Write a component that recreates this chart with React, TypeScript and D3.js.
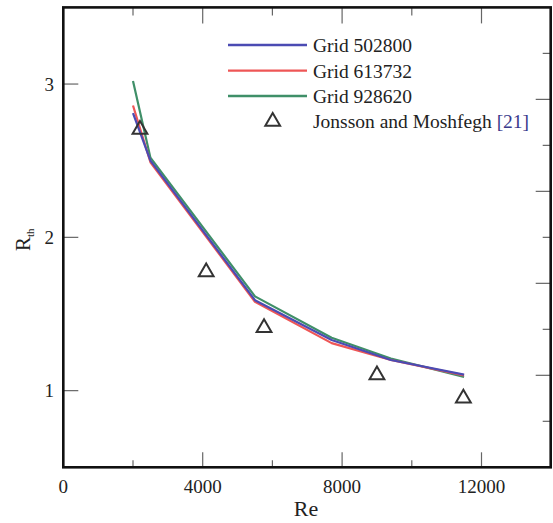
import React from "react";
import * as d3 from "d3";

const reValues = [2000, 2500, 5500, 7700, 9400, 11500];
const grid502800 = [2.81, 2.5, 1.59, 1.33, 1.2, 1.105];
const grid613732 = [2.86, 2.49, 1.58, 1.31, 1.2, 1.1];
const grid928620 = [3.02, 2.52, 1.615, 1.345, 1.21, 1.09];
const expRe = [2200, 4100, 5760, 9000, 11480];
const expRth = [2.71, 1.78, 1.417, 1.109, 0.957];
const xTicks = [0, 4000, 8000, 12000];
const xMinor = [2000, 6000, 10000];
const yTicks = [1, 2, 3];
const rightTicks = [0.8, 1.1, 1.4, 1.7, 2.0, 2.3, 2.6, 2.9, 3.2];
const rightLong = [1.1, 1.7, 2.3, 2.9];

const seriesNames = ["Grid 502800", "Grid 613732", "Grid 928620"];
const seriesColors = ["#4b4bb3", "#ee5656", "#3f8f68"];
const seriesValues = [grid502800, grid613732, grid928620];

const FONT = "Liberation Serif, Times New Roman, Times, serif";
const fs = (size: number) => ({ fontFamily: FONT, fontSize: size + "px" });

export default function App() {
  const W = 553, H = 523;
  const L = 63.3, R = 550.7, T = 7.4, B = 467.3;
  const x = d3.scaleLinear().domain([0, 14000]).range([L, 551.2]);
  const y = d3.scaleLinear().domain([0.5, 3.5]).range([B, T]);
  const line = d3.line<[number, number]>().x(d => x(d[0])).y(d => y(d[1]));
  const tri = d3.symbol().type(d3.symbolTriangle).size(95)();
  const drawOrder = [2, 1, 0];
  const legendY = [45, 70.7, 96];

  return (
    <svg width={W} height={H} style={{ position: "absolute", left: 0, top: 0, background: "#fff" }}>
      <rect x={0} y={0} width={W} height={H} fill="#fff" />
      <g stroke="#666" strokeWidth={1.2}>
        {xTicks.filter(v => v > 0).map(v => (
          <g key={"xt" + v}>
            <line x1={x(v)} x2={x(v)} y1={B} y2={B - 15} />
            <line x1={x(v)} x2={x(v)} y1={T} y2={T + 16} />
          </g>
        ))}
        {xMinor.map(v => (
          <g key={"xm" + v}>
            <line x1={x(v)} x2={x(v)} y1={B} y2={B - 7} />
            <line x1={x(v)} x2={x(v)} y1={T} y2={T + 8} />
          </g>
        ))}
        {yTicks.map(v => (
          <line key={"yt" + v} x1={L} x2={L + 15} y1={y(v)} y2={y(v)} />
        ))}
        {rightTicks.map(v => (
          <line key={"rt" + v} x1={R} x2={R - (rightLong.includes(v) ? 15 : 8)} y1={y(v)} y2={y(v)} />
        ))}
      </g>
      {drawOrder.map(i => (
        <path
          key={seriesNames[i]}
          d={line(reValues.map((r, j) => [r, seriesValues[i][j]] as [number, number])) || ""}
          fill="none"
          stroke={seriesColors[i]}
          strokeWidth={2.2}
          strokeLinejoin="round"
        />
      ))}
      {expRe.map((r, j) => (
        <path
          key={"e" + j}
          d={tri || ""}
          transform={`translate(${x(r)},${y(expRth[j]) + 1})`}
          fill="none"
          stroke="#333"
          strokeWidth={2}
        />
      ))}
      <rect x={L} y={T} width={R - L} height={B - T} fill="none" stroke="#111" strokeWidth={2.6} />
      <g fill="#222" style={fs(19)}>
        {xTicks.map(v => (
          <text key={"xl" + v} x={x(v)} y={493} textAnchor="middle">{v}</text>
        ))}
        {yTicks.map(v => (
          <text key={"yl" + v} x={54} y={y(v)} dy="0.35em" textAnchor="end">{v}</text>
        ))}
      </g>
      <text x={306} y={516} textAnchor="middle" fill="#222" style={fs(22)}>Re</text>
      <g transform="translate(30,251) rotate(-90)">
        <text x={0} y={0} fill="#222" style={fs(21)}>
          R<tspan style={{ fontSize: "11px" }} dy={4}>th</tspan>
        </text>
      </g>
      <g fill="#222" style={fs(19.5)}>
        {seriesNames.map((n, i) => (
          <g key={"lg" + n}>
            <line x1={228} x2={307} y1={legendY[i]} y2={legendY[i]} stroke={seriesColors[i]} strokeWidth={2.3} />
            <text x={313} y={legendY[i]} dy="0.35em">{n}</text>
          </g>
        ))}
        <path d={tri || ""} transform="translate(272.7,121.5)" fill="none" stroke="#333" strokeWidth={2} />
        <text x={313} y={121.5} dy="0.35em">
          Jonsson and Moshfegh <tspan fill="#3a3a8c">[21]</tspan>
        </text>
      </g>
    </svg>
  );
}
